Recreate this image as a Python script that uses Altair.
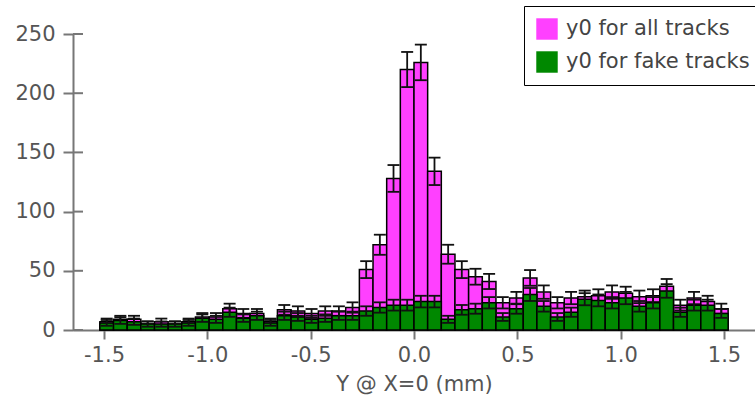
import altair as alt
import numpy as np
import pandas as pd

# Histogram of y0 (46 bins from -1.52 to 1.52)
all_tracks = [7, 9, 9, 5, 7, 5, 7, 11, 11, 18, 14, 14, 7, 17, 16, 14, 16, 16, 19,
              51, 72, 128, 220, 226, 134, 64, 51, 45, 41, 23, 27, 44, 32, 23, 27,
              28, 29, 32, 31, 28, 29, 37, 21, 27, 24, 18]
fake_tracks = [6, 8, 7, 5, 5, 5, 6, 10, 9, 15, 10, 12, 6, 12, 11, 9, 10, 12, 12,
               16, 19, 21, 21, 24, 24, 9, 17, 18, 23, 11, 18, 30, 20, 11, 15,
               26, 25, 23, 27, 20, 23, 33, 15, 21, 21, 14]
series_names = ["y0 for all tracks", "y0 for fake tracks"]
series_colors = ["#ff40ff", "#008800"]
x_ticks = [-1.5, -1.0, -0.5, 0.0, 0.5, 1.0, 1.5]
y_ticks = [0, 50, 100, 150, 200, 250]
bin_range = (-1.52, 1.52)
n_bins = len(all_tracks)

edges = np.linspace(bin_range[0], bin_range[1], n_bins + 1)
rows = []
for name, counts in zip(series_names, [all_tracks, fake_tracks]):
    for i, c in enumerate(counts):
        rows.append({"series": name, "lo": edges[i], "hi": edges[i + 1],
                     "center": (edges[i] + edges[i + 1]) / 2, "count": c})
df = pd.DataFrame(rows)
tick_df = pd.DataFrame({"t": y_ticks})

xs = alt.Scale(domain=[-1.65, 1.65], nice=False, zero=False)
ys = alt.Scale(domain=[0, 250], nice=False)
x_axis = alt.Axis(values=x_ticks, tickSize=9, labelPadding=5,
                  labelExpr="datum.value < 0 ? '-' + format(-datum.value, '.1f') : format(datum.value, '.1f')",
                  title="Y @ X=0 (mm)", titlePadding=8)
y_axis = alt.Axis(values=y_ticks, tickSize=10, labelPadding=8, title=None)
legend = alt.Legend(orient="none", legendX=451, legendY=-28, title=None,
                    symbolType="square", symbolSize=460, symbolStrokeWidth=0,
                    labelFontSize=21, labelFont="DejaVu Sans", labelColor="#444",
                    strokeColor="black", fillColor="white", padding=12,
                    rowPadding=11, labelOffset=8, labelLimit=400)
color = alt.Color("series:N", scale=alt.Scale(domain=series_names, range=series_colors),
                  legend=legend)

base = alt.Chart(df).transform_calculate(
    zero="0",
    lo_err="datum.count - sqrt(datum.count)",
    hi_err="datum.count + sqrt(datum.count)",
    cl="datum.center - 0.029",
    cr="datum.center + 0.029",
)

layers = []
for name in series_names:
    sub = base.transform_filter(alt.datum.series == name)
    bars = sub.mark_bar(stroke="black", strokeWidth=1.5, opacity=1).encode(
        x=alt.X("lo:Q", scale=xs, axis=x_axis),
        x2="hi:Q",
        y=alt.Y("count:Q", scale=ys, axis=y_axis),
        y2="zero:Q",
        color=color,
    )
    vline = sub.mark_rule(color="#111", strokeWidth=1.8).encode(
        x=alt.X("center:Q", scale=xs, axis=x_axis),
        y=alt.Y("lo_err:Q", scale=ys, axis=y_axis),
        y2="hi_err:Q",
    )
    cap_hi = sub.mark_rule(color="#111", strokeWidth=1.8).encode(
        x=alt.X("cl:Q", scale=xs, axis=x_axis), x2="cr:Q",
        y=alt.Y("hi_err:Q", scale=ys, axis=y_axis),
    )
    cap_lo = sub.mark_rule(color="#111", strokeWidth=1.8).encode(
        x=alt.X("cl:Q", scale=xs, axis=x_axis), x2="cr:Q",
        y=alt.Y("lo_err:Q", scale=ys, axis=y_axis),
    )
    layers += [bars, vline, cap_hi, cap_lo]

inner_ticks = alt.Chart(tick_df).mark_rule(color="#777", strokeWidth=2).encode(
    x=alt.value(0), x2=alt.value(10),
    y=alt.Y("t:Q", scale=ys, axis=y_axis),
)
layers.append(inner_ticks)

chart = alt.layer(*layers).properties(
    width=682, height=296,
    autosize=alt.AutoSizeParams(type="none"),
    padding={"left": 73, "top": 34, "right": 0, "bottom": 75},
).configure_view(stroke=None).configure_axis(
    grid=False, domainColor="#777", domainWidth=2, tickColor="#777", tickWidth=2,
    labelColor="#555", titleColor="#555", labelFont="DejaVu Sans", titleFont="DejaVu Sans",
    labelFontSize=21, titleFontSize=21, titleFontWeight="normal",
)

chart.save("out.html", embed_options={"renderer": "svg", "actions": False})
